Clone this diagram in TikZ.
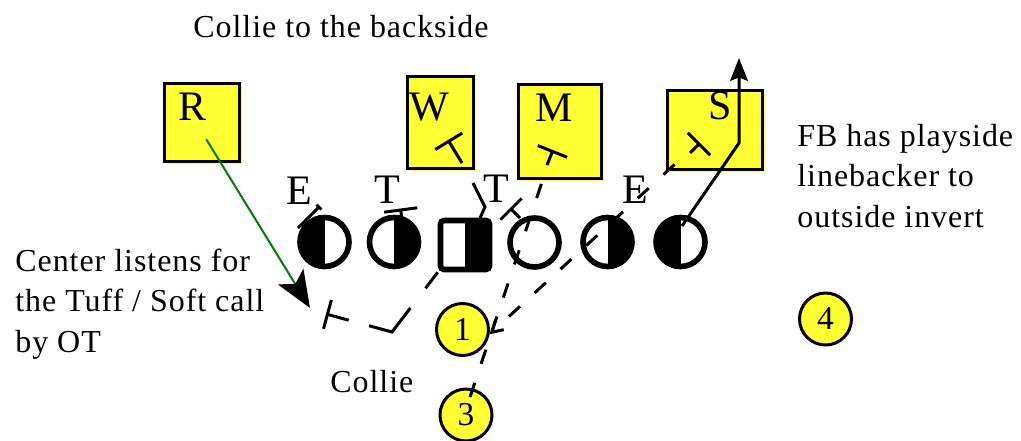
\documentclass[tikz,border=0pt]{standalone}
\usepackage{fontspec}
\setmainfont{Liberation Serif}
\usetikzlibrary{arrows.meta,calc,shadows}
\definecolor{lbyellow}{HTML}{FFFF33}
\definecolor{routegreen}{HTML}{008000}

\begin{document}
\begin{tikzpicture}[x=0.02cm, y=-0.02cm, >=Latex,
    player/.style={circle, draw, line width=3.2pt, fill=white, minimum size=0.98cm, inner sep=0pt},
    lhalf/.style={path picture={\fill[black] (path picture bounding box.north west) rectangle (path picture bounding box.south);}},
    rhalf/.style={path picture={\fill[black] (path picture bounding box.north) rectangle (path picture bounding box.south east);}},
    lbox/.style={draw, line width=1.7pt, fill=lbyellow, inner sep=0pt,
                 general shadow={fill=lbyellow, shadow xshift=1.4pt, shadow yshift=-1.4pt}},
    back/.style={circle, draw, line width=1.7pt, fill=lbyellow, minimum size=1.04cm, inner sep=0pt,
                 font=\fontsize{19pt}{22pt}\selectfont},
    tag/.style={inner sep=0pt, font=\fontsize{23.9pt}{28pt}\selectfont},
    note/.style={inner sep=0pt, anchor=base west, align=left,
                 font=\fontsize{18.2pt}{22.8pt}\selectfont\addfontfeature{LetterSpace=3}},
    blk/.style={line width=1.7pt, -{Bar[width=#1]}},
    dsh/.style={line width=1.7pt, dash pattern=on 8.5pt off 11.4pt}]

    \useasboundingbox (0,0) rectangle (1021,440);

    % linebackers and safety
    \node[lbox, minimum width=1.5cm,  minimum height=1.56cm] (rbox) at (201.7,122.2) {};
    \node[lbox, minimum width=1.32cm, minimum height=1.84cm] (wbox) at (440.5,122.5) {};
    \node[lbox, minimum width=1.66cm, minimum height=1.88cm] (mbox) at (559.7,131.5) {};
    \node[lbox, minimum width=1.9cm,  minimum height=1.58cm] (sbox) at (715,130) {};
    \node[tag] (rl) at (193,107) {R};
    \node[tag] (wl) at (429,107) {W};
    \node[tag] (ml) at (554,108) {M};
    \node[tag] (sl) at (720,106) {S};

    % front
    \node[tag] (el) at (299.5,190.5) {E};
    \node[tag] (tl) at (387,190) {T};
    \node[tag] (tr) at (496,189) {T};
    \node[tag] (er) at (635,190) {E};

    % offensive line
    \node[player, lhalf] (le) at (324.5,242) {};
    \node[player, rhalf] (lt) at (394,242) {};
    \node[player, rectangle, rounded corners=2pt, rhalf] (c) at (465,245) {};
    \node[player] (rt) at (534.5,242.5) {};
    \node[player, rhalf] (re) at (607.5,242) {};
    \node[player, lhalf] (te) at (680.5,242) {};

    % backs
    \node[back] (one) at (462.5,329.5) {1};
    \node[back] (three) at (466,415) {3};
    \node[back] (four) at (825.5,319) {4};

    % notes
    \node[note] (title) at (193,37) {Collie to the backside};
    \node[note] (call) at (15,352) {Center listens for\\the Tuff / Soft call\\by OT};
    \node[note] (fbnote) at (797,227) {FB has playside\\linebacker to\\outside invert};
    \node[note] (collie) at (330,392) {Collie};

    % blocks
    \draw[blk=4pt] (298,228) -- (320,206);
    \draw[blk=19pt] (401.5,216) -- (400.5,208.5);
    \draw[line width=1.7pt] (480,218) -- (485,207) -- (473,183);
    \draw[blk=17pt] (520,218) -- (510,208);
    \draw[blk=18pt] (462,163) -- (448,140);
    \draw[blk=18pt] (547,165) -- (553,150);
    \draw[blk=18pt] (690,153) -- (700,143);

    % routes
    \coordinate (rtip) at (310,308);
    \coordinate (stip) at (739,58);
    \draw[line width=1.7pt, -{Bar[width=17pt]},
          dash pattern=on 11.4pt off 14.2pt on 30.7pt off 12pt on 13pt]
        (c.south west) -- (392,332) -- (326,314);
    \draw[dsh] ($(three.center)+(4,-18)$) -- ($(mbox.south)+(-17,0)$);
    \draw[dsh, -{Straight Barb[length=6pt, width=7pt]}] ($(sbox.south west)+(8.5,-6.5)$) -- (one.-10);
    \draw[line width=1.7pt, -{Stealth[length=13pt, width=10pt, inset=2pt]}]
        ($(te.center)+(1.5,-16)$) -- (739,143) -- (stip);
    \draw[routegreen, line width=1.15pt, -{Stealth[black, length=21pt, width=17pt, inset=5pt]}]
        ($(rbox.center)+(4.5,17)$) -- (rtip);
\end{tikzpicture}
\end{document}
